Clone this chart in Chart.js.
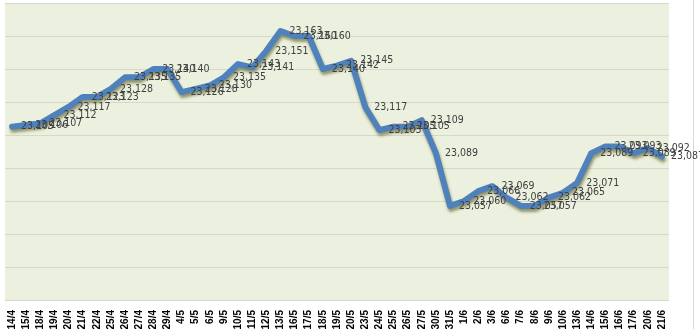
<!DOCTYPE html>
<html><head><meta charset="utf-8">
<style>html,body{margin:0;padding:0;background:#fff;}#wrap{width:700px;height:329px;position:relative;}</style>
</head><body>
<div id="wrap"><canvas id="c" width="700" height="329"></canvas></div>
<script src="https://cdn.jsdelivr.net/npm/chart.js@4"></script>
<script>
const categories = ["14/4","15/4","18/4","19/4","20/4","21/4","22/4","25/4","26/4","27/4","28/4","29/4",
  "4/5","5/5","6/5","9/5","10/5","11/5","12/5","13/5","16/5","17/5","18/5","19/5","20/5","23/5","24/5","25/5","26/5","27/5","30/5","31/5",
  "1/6","2/6","3/6","6/6","7/6","8/6","9/6","10/6","13/6","14/6","15/6","16/6","17/6","20/6","21/6"];
const rates = [23105,23106,23107,23112,23117,23123,23123,23128,23135,23135,23140,23140,
  23126,23128,23130,23135,23143,23141,23151,23163,23160,23160,23140,23142,23145,23117,23103,23105,23105,23109,23089,23057,
  23060,23066,23069,23062,23057,23057,23062,23065,23071,23089,23093,23093,23089,23092,23087];
const yMin = 23000, yMax = 23180, yStep = 20;

const plotBg = {
  id: 'plotBg',
  beforeDraw(chart) {
    const {ctx, chartArea: a} = chart;
    ctx.save();
    ctx.fillStyle = '#EBF1DE';
    ctx.fillRect(a.left, a.top, a.right - a.left, a.bottom - a.top);
    ctx.strokeStyle = '#d9d9d9';
    ctx.lineWidth = 1;
    ctx.beginPath();
    ctx.moveTo(693.5, 0); ctx.lineTo(693.5, chart.height);
    ctx.stroke();
    ctx.restore();
  }
};
const lineShadow = {
  id: 'lineShadow',
  beforeDatasetDraw(chart) {
    const ctx = chart.ctx;
    ctx.save();
    ctx.shadowColor = 'rgba(90,90,30,0.6)';
    ctx.shadowBlur = 3;
    ctx.shadowOffsetX = 1;
    ctx.shadowOffsetY = 3;
  },
  afterDatasetDraw(chart) { chart.ctx.restore(); }
};
const dataLabels = {
  id: 'dataLabels',
  afterDatasetsDraw(chart) {
    const ctx = chart.ctx;
    const meta = chart.getDatasetMeta(0);
    ctx.save();
    ctx.font = '10.5px "Liberation Sans Narrow", "DejaVu Sans Condensed", sans-serif';
    ctx.fillStyle = '#404040';
    ctx.textAlign = 'left';
    ctx.textBaseline = 'middle';
    meta.data.forEach((pt, i) => {
      const v = chart.data.datasets[0].data[i];
      ctx.fillText(v.toLocaleString('en-US'), pt.x + 9, pt.y);
    });
    ctx.restore();
  }
};

new Chart(document.getElementById('c'), {
  type: 'line',
  data: {
    labels: categories,
    datasets: [{
      data: rates,
      borderColor: '#4F81BD',
      borderWidth: 6,
      pointRadius: 0,
      tension: 0,
      borderJoinStyle: 'round',
      borderCapStyle: 'round',
      fill: false
    }]
  },
  options: {
    responsive: false,
    devicePixelRatio: 1,
    animation: false,
    layout: { padding: { top: 3, left: 5, right: 31, bottom: 0 } },
    plugins: { legend: { display: false }, tooltip: { enabled: false } },
    scales: {
      x: {
        offset: true,
        grid: { display: false },
        border: { display: false },
        ticks: {
          autoSkip: false, minRotation: 90, maxRotation: 90, padding: 2,
          color: '#000',
          font: { family: '"Liberation Sans Narrow", "Liberation Sans"', size: 10, weight: 'bold' }
        },
        afterFit(scale) { scale.height = 29; }
      },
      y: {
        min: yMin, max: yMax,
        grid: { color: '#d4d9cc', lineWidth: 1, drawTicks: false },
        border: { display: false },
        ticks: { display: false, stepSize: yStep },
        afterFit(scale) { scale.width = 0; }
      }
    }
  },
  plugins: [plotBg, lineShadow, dataLabels]
});
</script>
</body></html>
